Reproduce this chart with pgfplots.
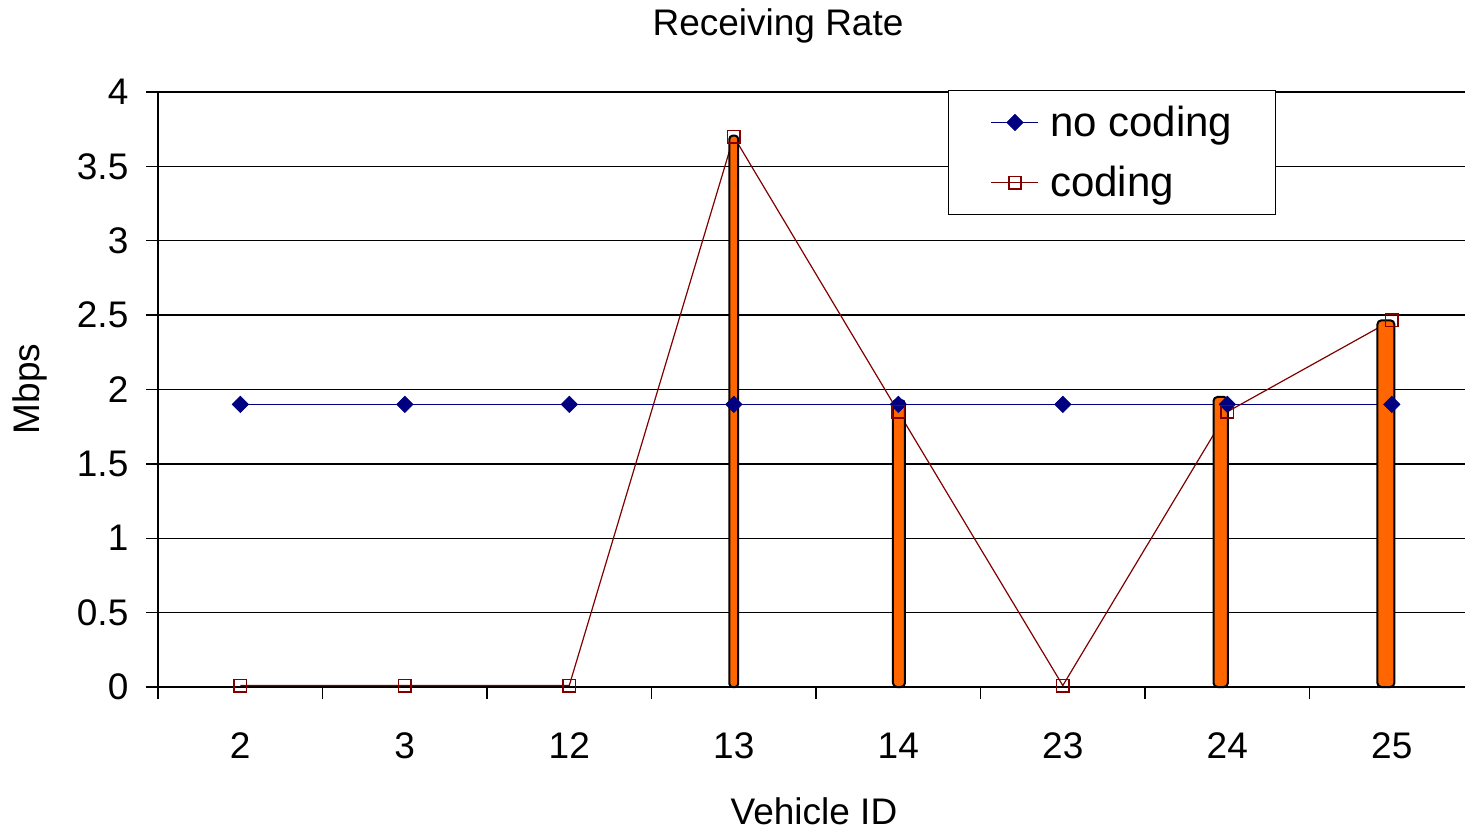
\documentclass[border=0pt]{standalone}
\usepackage{pgfplots}
\pgfplotsset{compat=1.18}
\usepackage{fontspec}
\setmainfont{Liberation Sans}
\definecolor{navyb}{HTML}{000080}
\definecolor{darkr}{HTML}{800000}
\definecolor{orbar}{HTML}{FF6600}
\begin{document}
\begin{tikzpicture}
\useasboundingbox (0,0) rectangle (732.5pt,414.5pt);
\begin{axis}[
  at={(79pt,71pt)}, anchor=south west,
  scale only axis, width=653.5pt, height=297.5pt,
  xmin=-0.5, xmax=7.445, ymin=0, ymax=4,
  axis lines*=left,
  axis line style={line width=0.75pt, black},
  clip=false,
  /pgf/number format/assume math mode=true,
  ticklabel style={font=\fontsize{18.5}{22}\selectfont},
  tick align=outside,
  major tick length=6pt,
  ytick={0,0.5,1,1.5,2,2.5,3,3.5,4},
  yticklabels={0,0.5,1,1.5,2,2.5,3,3.5,4},
  ytick style={black, line width=0.75pt},
  yticklabel style={xshift=-5.3pt},
  xtick={0,1,2,3,4,5,6,7},
  xticklabels={2,3,12,13,14,23,24,25},
  xtick style={draw=none},
  xticklabel style={yshift=-13.3pt},
  extra x ticks={-0.5,0.5,1.5,2.5,3.5,4.5,5.5,6.5},
  extra x tick labels={},
  extra x tick style={xtick style={draw=black, line width=0.75pt}, grid=none},
  ymajorgrids,
  grid style={black, line width=0.75pt},
  title={Receiving Rate},
  title style={at={(0.4744,1.0756)}, anchor=base, yshift=0pt, font=\fontsize{18.5}{22}\selectfont},
  xlabel={Vehicle ID},
  xlabel style={at={(0.5019,-0.2303)}, anchor=base, yshift=0pt, font=\fontsize{18.5}{22}\selectfont},
  ylabel={Mbps},
  ylabel style={at={(-0.0979,0.5008)}, anchor=center, xshift=0pt, yshift=0pt, font=\fontsize{18.5}{22}\selectfont},
  legend style={at={(0.6044,1.0034)}, anchor=north west, draw=black, line width=0.75pt,
    font=\fontsize{21}{25}\selectfont, inner xsep=19pt, inner ysep=5pt, row sep=8.5pt,
    nodes={inner sep=2.5pt}},
  legend cell align=left,
  legend image code/.code={\path (-2pt,0pt) (26.5pt,0pt); \draw[#1, mark repeat=2, mark phase=2] plot coordinates {(0pt,0pt) (11.75pt,0pt) (23.5pt,0pt)};},
]
\addplot[navyb, line width=0.75pt, mark=square*, mark size=2.9pt, mark options={rotate=45, fill=navyb, draw=navyb, line width=0.3pt}]
  coordinates {(0,1.9) (1,1.9) (2,1.9) (3,1.9) (4,1.9) (5,1.9) (6,1.9) (7,1.9)};
\addlegendentry{no coding}
\addplot[darkr, line width=0.6pt, mark=square, mark size=3.1pt, mark options={draw=darkr, fill=white, line width=0.8pt}]
  coordinates {(0,0.01) (1,0.01) (2,0.01) (3,3.70) (4,1.85) (5,0.01) (6,1.85) (7,2.465)};
\addlegendentry{coding}
\addplot[ybar, bar shift=0pt, bar width=4.3pt, fill=orbar, draw=black, line width=1pt, rounded corners=1.5pt, forget plot]
  coordinates {(3.0,3.706)};
\addplot[ybar, bar shift=0pt, bar width=6pt, fill=orbar, draw=black, line width=1pt, rounded corners=2pt, forget plot]
  coordinates {(4.004,1.93)};
\addplot[ybar, bar shift=0pt, bar width=7.2pt, fill=orbar, draw=black, line width=1pt, rounded corners=2pt, forget plot]
  coordinates {(5.96,1.95)};
\addplot[ybar, bar shift=0pt, bar width=8.5pt, fill=orbar, draw=black, line width=1pt, rounded corners=2pt, forget plot]
  coordinates {(6.964,2.465)};
\end{axis}
\end{tikzpicture}
\end{document}
